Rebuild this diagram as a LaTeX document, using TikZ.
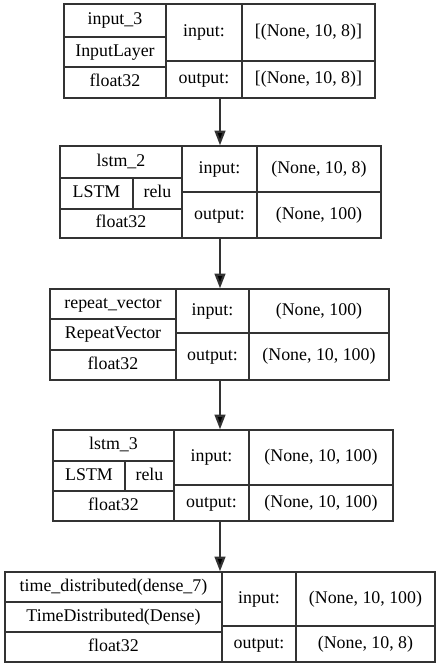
\documentclass[tikz,border=0pt]{standalone}
\usepackage{fontspec}
\setmainfont{Liberation Serif}
\usetikzlibrary{arrows.meta,fit}
\tikzset{
  cell/.style={draw=black!80, line width=1pt},
  box/.style={cell, inner sep=0pt},
  txt/.style={font=\fontsize{13.4}{16}\selectfont, inner sep=0pt, text height=9pt, text depth=3pt},
  flow/.style={draw=black!80, line width=1.6pt, -{Triangle[length=11pt,width=8pt,fill=black]}},
}
\begin{document}
\begin{tikzpicture}[x=0.75pt, y=-0.75pt]
    \useasboundingbox (0, 0) rectangle (440, 669);
    \coordinate (spine) at (220, 0);

    % input_3
    \node[box, fit={(64, 4) (375, 98)}] (in3) {};
    \draw[cell] (166, 4) -- (166, 98);
    \draw[cell] (242, 4) -- (242, 98);
    \draw[cell] (64, 37) -- (166, 37);
    \draw[cell] (64, 67) -- (166, 67);
    \draw[cell] (166, 61) -- (375, 61);
    \node[txt] (in3name) at (115, 20.5) {input\_3};
    \node[txt] (in3type) at (115, 52) {InputLayer};
    \node[txt] (in3dt) at (115, 82.5) {float32};
    \node[txt] (in3ik) at (204, 32.5) {input:};
    \node[txt] (in3ok) at (204, 79.5) {output:};
    \node[txt] (in3iv) at (308.5, 32.5) {[(None, 10, 8)]};
    \node[txt] (in3ov) at (308.5, 79.5) {[(None, 10, 8)]};

    % lstm_2
    \node[box, fit={(60, 146) (381, 238)}] (lstm2) {};
    \draw[cell] (182, 146) -- (182, 238);
    \draw[cell] (257, 146) -- (257, 238);
    \draw[cell] (60, 178) -- (182, 178);
    \draw[cell] (60, 209) -- (182, 209);
    \draw[cell] (133, 178) -- (133, 209);
    \draw[cell] (182, 192) -- (381, 192);
    \node[txt] (lstm2name) at (121, 162) {lstm\_2};
    \node[txt] (lstm2type) at (96.5, 193.5) {LSTM};
    \node[txt] (lstm2act) at (157.5, 193.5) {relu};
    \node[txt] (lstm2dt) at (121, 223.5) {float32};
    \node[txt] (lstm2ik) at (219.5, 169) {input:};
    \node[txt] (lstm2ok) at (219.5, 215) {output:};
    \node[txt] (lstm2iv) at (319, 169) {(None, 10, 8)};
    \node[txt] (lstm2ov) at (319, 215) {(None, 100)};

    % repeat_vector
    \node[box, fit={(50, 289) (389, 380)}] (rep) {};
    \draw[cell] (176, 289) -- (176, 380);
    \draw[cell] (249, 289) -- (249, 380);
    \draw[cell] (50, 319) -- (176, 319);
    \draw[cell] (50, 350) -- (176, 350);
    \draw[cell] (176, 333) -- (389, 333);
    \node[txt] (repname) at (113, 304) {repeat\_vector};
    \node[txt] (reptype) at (113, 334.5) {RepeatVector};
    \node[txt] (repdt) at (113, 365) {float32};
    \node[txt] (repik) at (212.5, 311) {input:};
    \node[txt] (repok) at (212.5, 356.5) {output:};
    \node[txt] (repiv) at (319, 311) {(None, 100)};
    \node[txt] (repov) at (319, 356.5) {(None, 10, 100)};

    % lstm_3
    \node[box, fit={(53, 430) (393, 521)}] (lstm3) {};
    \draw[cell] (174, 430) -- (174, 521);
    \draw[cell] (249, 430) -- (249, 521);
    \draw[cell] (53, 461) -- (174, 461);
    \draw[cell] (53, 491) -- (174, 491);
    \draw[cell] (125, 461) -- (125, 491);
    \draw[cell] (174, 485) -- (393, 485);
    \node[txt] (lstm3name) at (113.5, 445.5) {lstm\_3};
    \node[txt] (lstm3type) at (89, 476) {LSTM};
    \node[txt] (lstm3act) at (149.5, 476) {relu};
    \node[txt] (lstm3dt) at (113.5, 506) {float32};
    \node[txt] (lstm3ik) at (211.5, 457.5) {input:};
    \node[txt] (lstm3ok) at (211.5, 503) {output:};
    \node[txt] (lstm3iv) at (321, 457.5) {(None, 10, 100)};
    \node[txt] (lstm3ov) at (321, 503) {(None, 10, 100)};

    % time_distributed
    \node[box, fit={(5, 572) (435, 662)}] (td) {};
    \draw[cell] (222, 572) -- (222, 662);
    \draw[cell] (296, 572) -- (296, 662);
    \draw[cell] (5, 602) -- (222, 602);
    \draw[cell] (5, 632) -- (222, 632);
    \draw[cell] (222, 626) -- (435, 626);
    \node[txt] (tdname) at (113.5, 587) {time\_distributed(dense\_7)};
    \node[txt] (tdtype) at (113.5, 617) {TimeDistributed(Dense)};
    \node[txt] (tddt) at (113.5, 647) {float32};
    \node[txt] (tdik) at (259, 599) {input:};
    \node[txt] (tdok) at (259, 644) {output:};
    \node[txt] (tdiv) at (365.5, 599) {(None, 10, 100)};
    \node[txt] (tdov) at (365.5, 644) {(None, 10, 8)};

    % edges
    \draw[flow] (in3.south -| spine) -- (lstm2.north -| spine);
    \draw[flow] (lstm2.south -| spine) -- (rep.north -| spine);
    \draw[flow] (rep.south -| spine) -- (lstm3.north -| spine);
    \draw[flow] (lstm3.south -| spine) -- (td.north -| spine);
\end{tikzpicture}
\end{document}
